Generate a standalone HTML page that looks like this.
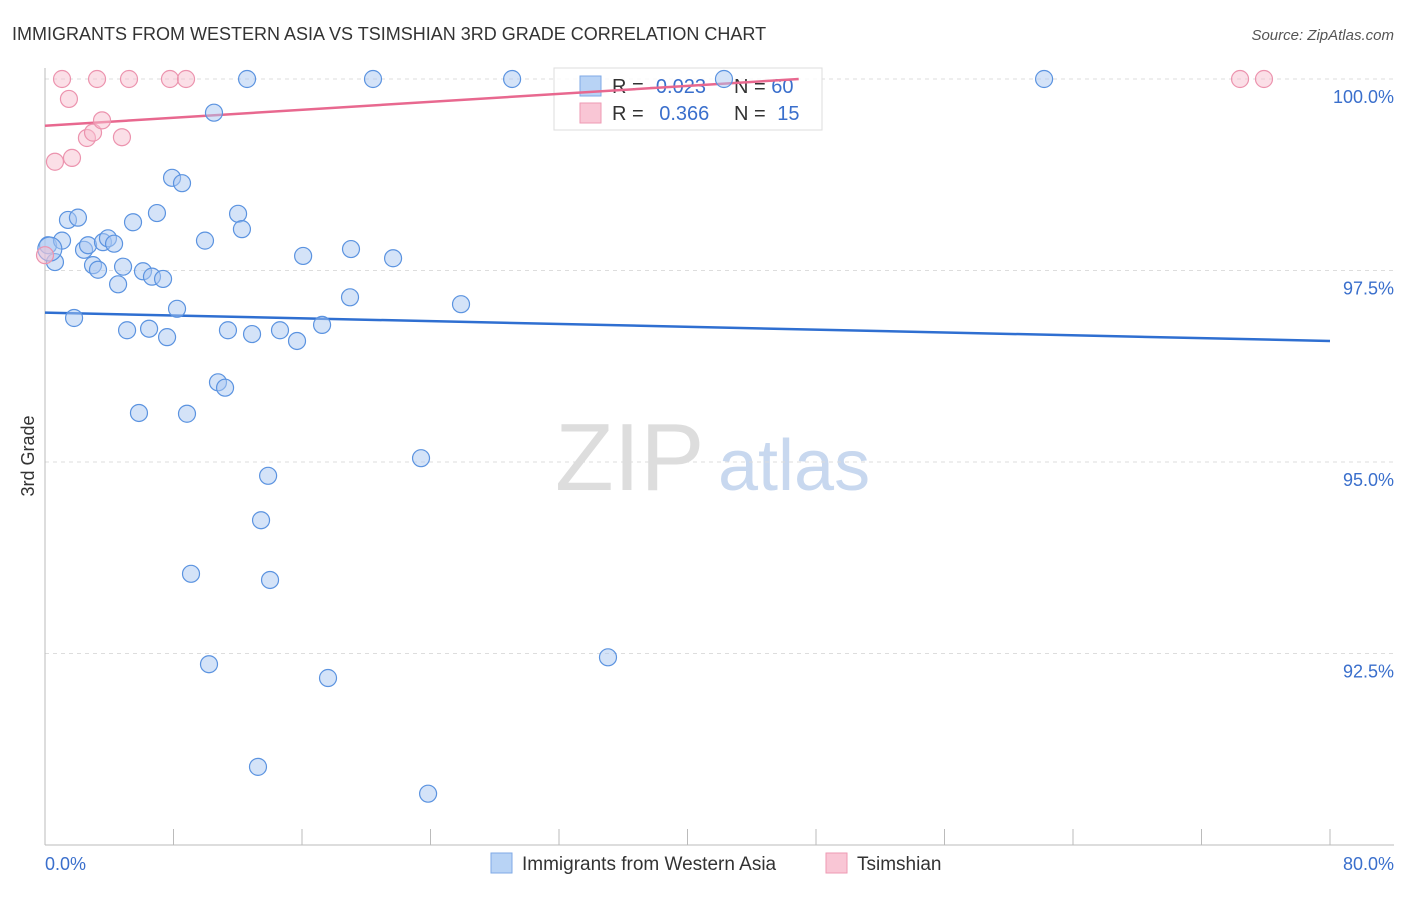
<!DOCTYPE html>
<html><head><meta charset="utf-8"><style>
body{margin:0;background:#fff;font-family:"Liberation Sans",sans-serif;}
svg text{font-family:"Liberation Sans",sans-serif;}
</style></head><body>
<svg id="chart" width="1406" height="892" xmlns="http://www.w3.org/2000/svg">
<text x="12" y="40" font-size="18" fill="#333">IMMIGRANTS FROM WESTERN ASIA VS TSIMSHIAN 3RD GRADE CORRELATION CHART</text>
<text x="1394" y="40" font-size="15" fill="#555" font-style="italic" text-anchor="end">Source: ZipAtlas.com</text>
<text x="34" y="456" font-size="18" fill="#333" transform="rotate(-90 34 456)" text-anchor="middle">3rd Grade</text>
<g><text x="555" y="490" font-size="96" fill="#ddd" font-family="Liberation Serif">ZIP</text><text x="718" y="490" font-size="72" fill="#c8d8ef">atlas</text></g>
<g id="grid"></g><g id="axes"></g>
<g>
<rect x="554" y="68" width="268" height="62" fill="#fff" fill-opacity="0.85" stroke="#ddd"/>
<rect x="580" y="76" width="21" height="20" fill="#b8d3f5" stroke="#7fa9e6"/>
<rect x="580" y="103" width="21" height="20" fill="#f9c6d5" stroke="#ee9ab3"/>
<text x="612" y="93" font-size="20" fill="#333">R = <tspan fill="#3a6fcc">-0.023</tspan></text>
<text x="734" y="93" font-size="20" fill="#333">N = <tspan fill="#3a6fcc">60</tspan></text>
<text x="612" y="120" font-size="20" fill="#333">R = <tspan fill="#3a6fcc" dx="10">0.366</tspan></text>
<text x="734" y="120" font-size="20" fill="#333">N = <tspan fill="#3a6fcc" dx="6">15</tspan></text>
</g>
<g id="trends"></g><g id="points"></g>
<g>
<rect x="491" y="853" width="21" height="20" fill="#b8d3f5" stroke="#7fa9e6"/>
<text x="522" y="870" font-size="19" fill="#333">Immigrants from Western Asia</text>
<rect x="826" y="853" width="21" height="20" fill="#f9c6d5" stroke="#ee9ab3"/>
<text x="857" y="870" font-size="19" fill="#333">Tsimshian</text>
</g>
</svg>
<script>
const blueX=[0.19,0.62,1.06,1.43,2.05,1.81,2.43,2.68,2.99,3.30,3.61,3.92,4.30,4.55,4.86,5.11,5.48,5.85,6.10,6.48,6.66,6.97,7.35,7.60,7.91,8.22,8.53,8.84,9.09,9.96,10.21,10.52,10.77,11.21,11.39,12.02,12.26,12.58,12.89,13.26,13.45,13.89,14.01,14.63,15.69,16.07,17.25,17.62,18.99,19.05,20.42,21.67,23.41,23.85,25.90,29.08,35.05,42.27,62.20,0.3];
const blueY=[97.83,97.61,97.89,98.16,98.19,96.88,97.77,97.83,97.57,97.51,97.87,97.92,97.85,97.32,97.55,96.72,98.13,95.64,97.49,96.74,97.42,98.25,97.39,96.63,98.71,97.00,98.64,95.63,93.54,97.89,92.36,99.56,96.04,95.97,96.72,98.24,98.04,100,96.67,91.02,94.24,94.82,93.46,96.72,96.58,97.69,96.79,92.18,97.15,97.78,100,97.66,95.05,90.67,97.06,100,92.45,100,100,97.78];
const pinkX=[0.62,1.06,1.49,1.68,2.61,2.99,3.24,3.55,4.79,5.23,7.78,8.78,74.40,75.89,0.0];
const pinkY=[98.92,100,99.74,98.97,99.23,99.30,100,99.46,99.24,100,100,100,100,100,97.70];
const blueTrend=[96.95,96.58];
const pinkTrend=[99.39,100.43];
const yTicks=[100,97.5,95,92.5];
const yTickLabels=["100.0%","97.5%","95.0%","92.5%"];
const xTickLabels=["0.0%","80.0%"];
const NS="http://www.w3.org/2000/svg";
const sx=v=>45+v/80*1285;
const sy=v=>79+(100-v)/2.5*191.5;
function mk(t,a,p){const e=document.createElementNS(NS,t);for(const k in a)e.setAttribute(k,a[k]);p.appendChild(e);return e;}
const grid=document.getElementById('grid'),axes=document.getElementById('axes'),tr=document.getElementById('trends'),pts=document.getElementById('points');
yTicks.forEach((t,i)=>{
 const l=mk('line',{x1:45,x2:1394,y1:sy(t),y2:sy(t),stroke:'#ddd','stroke-dasharray':'4 4'},grid);
 
 
 const tx=mk('text',{x:1394,y:sy(t)+24,'font-size':18,fill:'#3a6fcc','text-anchor':'end'},axes);
 tx.textContent=yTickLabels[i];
 
 
});
const ax=mk('line',{x1:45,x2:45,y1:68,y2:845,stroke:'#bbb'},axes);


const bx=mk('line',{x1:45,x2:1394,y1:845,y2:845,stroke:'#bbb'},axes);


for(let i=0;i<=10;i++){const x=45+i*128.5;
 const t=mk('line',{x1:x,x2:x,y1:829,y2:845,stroke:'#bbb'},axes);
 
 }
[[0,'start',45],[80,'end',1394]].forEach((d,i)=>{
 const t=mk('text',{x:d[2],y:870,'font-size':18,fill:'#3a6fcc','text-anchor':d[1]},axes);
 t.textContent=xTickLabels[i];
 
 });
const bl=mk('line',{x1:sx(0),y1:sy(blueTrend[0]),x2:sx(80),y2:sy(blueTrend[1]),stroke:'#2f6fd1','stroke-width':2.5},tr);


const xEnd=(100-pinkTrend[0])/(pinkTrend[1]-pinkTrend[0])*80;
const pl=mk('line',{x1:sx(0),y1:sy(pinkTrend[0]),x2:sx(xEnd),y2:sy(100),stroke:'#e8688f','stroke-width':2.5},tr);


blueX.forEach((x,i)=>{
 const c=mk('circle',{cx:sx(x),cy:sy(blueY[i]),r:i==59?12:8.5,fill:'#a9c8f2','fill-opacity':0.5,stroke:'#5b93e0','stroke-width':1.2},pts);
 
 });
pinkX.forEach((x,i)=>{
 const c=mk('circle',{cx:sx(x),cy:sy(pinkY[i]),r:8.5,fill:'#f7bfd0','fill-opacity':0.5,stroke:'#ec93ae','stroke-width':1.2},pts);
 
 });
</script>
</body></html>
